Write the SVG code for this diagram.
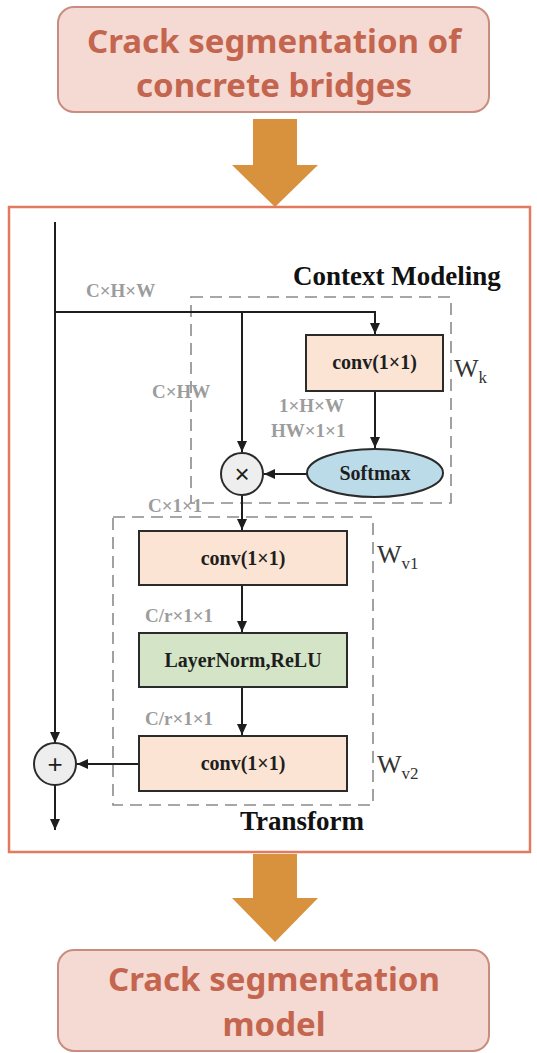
<svg xmlns="http://www.w3.org/2000/svg" width="537" height="1053" viewBox="0 0 537 1053">
<defs>
<marker id="ah" markerUnits="userSpaceOnUse" markerWidth="12" markerHeight="10" refX="11" refY="5" orient="auto"><path d="M0,0 L11,5 L0,10 z" fill="#1e1e1e"/></marker>
<style>
.title{font-family:"Noto Sans","Liberation Sans",sans-serif;font-weight:bold;font-size:33px;fill:#c4654f;text-anchor:middle}
.tbox{fill:#f4dad2;stroke:#c98d80;stroke-width:2}
.big{fill:#d8923e}
.frame{fill:#ffffff;stroke:#e27a60;stroke-width:2.5}
.dash{fill:none;stroke:#8a8a8a;stroke-width:1.6;stroke-dasharray:12 7}
.ln{fill:none;stroke:#1e1e1e;stroke-width:2;marker-end:url(#ah)}
.box{stroke:#2b2b2b;stroke-width:2}
.conv{fill:#fbe4d4}
.lbl{font-family:"Liberation Serif",serif;font-weight:bold;font-size:20px;fill:#1e1e1e;text-anchor:middle}
.dim{font-family:"Liberation Serif",serif;font-weight:bold;font-size:19px;fill:#9c9c9c}
.head{font-family:"Liberation Serif",serif;font-weight:bold;font-size:27px;fill:#111111}
.w{font-family:"Liberation Serif",serif;font-size:26px;fill:#333333}
.op{fill:#eeeeee;stroke:#2b2b2b;stroke-width:2}
.opt{font-family:"Liberation Sans",sans-serif;font-size:26px;fill:#1e1e1e;text-anchor:middle}
</style>
</defs>

<g id="input">
<rect class="tbox" x="58" y="7" width="431" height="105" rx="16"/>
<text class="title" x="274" y="53">Crack segmentation of</text>
<text class="title" x="274" y="97">concrete bridges</text>
</g>

<g id="arrow-in">
<polygon class="big" points="253,119 297,119 297,165 318,165 275,207 232,165 253,165"/>
</g>

<g id="frame">
<rect class="frame" x="9" y="207" width="521" height="645"/>
</g>

<g id="context-modeling">
<rect class="dash" x="191" y="297" width="260" height="206"/>
<text class="head" x="293" y="285">Context Modeling</text>
</g>

<g id="transform">
<rect class="dash" x="113" y="517" width="260" height="288"/>
<text class="head" x="240" y="830">Transform</text>
</g>

<g id="connectors">
<path class="ln" d="M55,222 V743"/>
<path class="ln" d="M55,785 V830"/>
<path class="ln" d="M55,312 H375 V334"/>
<path class="ln" d="M242,312 V452"/>
<path class="ln" d="M375,391 V448"/>
<path class="ln" d="M307,474 H264"/>
<path class="ln" d="M242,495 V530"/>
<path class="ln" d="M242,585 V632"/>
<path class="ln" d="M242,687 V735"/>
<path class="ln" d="M139,764 H77"/>
</g>

<g id="conv-wk">
<rect class="box conv" x="306" y="335" width="137" height="56"/>
<text class="lbl" x="374.5" y="369">conv(1×1)</text>
<text class="w" x="454" y="377">W<tspan font-size="17" dy="6">k</tspan></text>
</g>

<g id="softmax">
<ellipse class="box" cx="375" cy="473" rx="68" ry="24" fill="#bcdbe9"/>
<text class="lbl" x="375" y="480">Softmax</text>
</g>

<g id="multiply">
<circle class="op" cx="242" cy="474" r="21"/>
<text class="opt" x="242" y="483">×</text>
</g>

<g id="conv-wv1">
<rect class="box conv" x="139" y="531" width="208" height="54"/>
<text class="lbl" x="243" y="565">conv(1×1)</text>
<text class="w" x="377" y="563">W<tspan font-size="17" dy="6">v1</tspan></text>
</g>

<g id="layernorm">
<rect class="box" x="139" y="633" width="208" height="54" fill="#d4e5c7"/>
<text class="lbl" x="243" y="667">LayerNorm,ReLU</text>
</g>

<g id="conv-wv2">
<rect class="box conv" x="139" y="736" width="208" height="55"/>
<text class="lbl" x="243" y="770">conv(1×1)</text>
<text class="w" x="377" y="773">W<tspan font-size="17" dy="6">v2</tspan></text>
</g>

<g id="add">
<circle class="op" cx="55" cy="764" r="21"/>
<text class="opt" x="55" y="773">+</text>
</g>

<g id="dims">
<text class="dim" x="86" y="297">C×H×W</text>
<text class="dim" x="152" y="398">C×HW</text>
<text class="dim" x="279" y="412">1×H×W</text>
<text class="dim" x="271" y="437">HW×1×1</text>
<text class="dim" x="148" y="512">C×1×1</text>
<text class="dim" x="145" y="622">C/r×1×1</text>
<text class="dim" x="145" y="725">C/r×1×1</text>
</g>

<g id="arrow-out">
<polygon class="big" points="253,854 297,854 297,898 318,898 275,942 232,898 253,898"/>
</g>

<g id="output">
<rect class="tbox" x="58" y="950" width="431" height="101" rx="16"/>
<text class="title" x="274" y="991">Crack segmentation</text>
<text class="title" x="274" y="1036">model</text>
</g>
</svg>
